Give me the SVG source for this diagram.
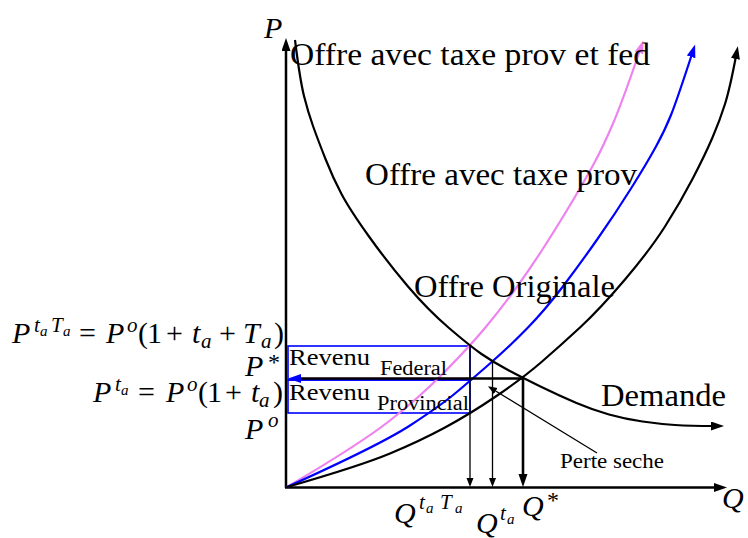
<svg xmlns="http://www.w3.org/2000/svg" width="748" height="538" viewBox="0 0 748 538">
<style>
text{font-family:"Liberation Serif","Times New Roman",serif;fill:#000}
.t30{font-size:31px}
.m{font-size:30px}
.i{font-style:italic}
.s2{font-size:21px}
.s3{font-size:15px}
.rev{font-size:24px}
.sub{font-size:20px}
.ps{font-size:21px}
.ax{stroke:#000;stroke-width:2.5;fill:none}
.cv{fill:none;stroke-width:2.2;stroke-linejoin:round}
.box{fill:none;stroke:#0000ff;stroke-width:1.6}
.thin{stroke:#000;stroke-width:1.3;fill:none}
.thick{stroke:#000;stroke-width:2.6;fill:none}
</style>
<defs>
<marker id="ak" markerUnits="userSpaceOnUse" markerWidth="14" markerHeight="10" refX="3" refY="4.5" orient="auto"><path d="M0,0 L13,4.5 L0,9 Z" fill="#000"/></marker>
<marker id="ab" markerUnits="userSpaceOnUse" markerWidth="14" markerHeight="10" refX="3" refY="4.5" orient="auto"><path d="M0,0 L13,4.5 L0,9 Z" fill="#0000ff"/></marker>
<marker id="ap" markerUnits="userSpaceOnUse" markerWidth="14" markerHeight="10" refX="3" refY="4.5" orient="auto"><path d="M0,0 L13,4.5 L0,9 Z" fill="#ee82ee"/></marker>
<marker id="as" markerUnits="userSpaceOnUse" markerWidth="10" markerHeight="8" refX="2" refY="3.5" orient="auto"><path d="M0,0 L9,3.5 L0,7 Z" fill="#000"/></marker>
</defs>
<rect width="748" height="538" fill="#fff"/>

<g id="axes">
<line class="ax" x1="286" y1="488" x2="286" y2="48" marker-end="url(#ak)"/>
<line class="ax" x1="285" y1="487.5" x2="717" y2="487.5" marker-end="url(#ak)"/>
</g>

<g id="boxes">
<rect id="box-federal" class="box" x="288" y="346" width="182" height="34"/>
<rect id="box-provincial" class="box" x="288" y="380" width="182" height="33"/>
</g>

<g id="curves">
<path id="supply-tax-prov-fed" class="cv" stroke="#ee82ee" marker-end="url(#ap)" d="M287,487 Q360,444 390,420.5 Q420,397 445,371.5 Q470,346 485,328 Q500,310 515,289.5 Q530,269 545,245.5 Q560,222 572.5,201 Q585,180 594,163.5 Q603,147 613,123.5 Q623,100 640,50"/>
<path id="supply-tax-prov" class="cv" stroke="#0000ff" marker-end="url(#ab)" d="M287,487 Q380,445 410,425.5 Q440,406 455,393.5 Q470,381 490,363.5 Q510,346 527.5,328 Q545,310 562.5,287 Q580,264 597.5,239 Q615,214 631,188.5 Q647,163 656,146.5 Q665,130 671,115 Q677,100 692,54"/>
<path id="supply-original" class="cv" stroke="#000" marker-end="url(#ak)" d="M287,487 Q360,466 390,453.5 Q420,441 445,427.5 Q470,414 496.5,396 Q523,378 541.5,362 Q560,346 580,327.5 Q600,309 625,279.5 Q650,250 665,226.5 Q680,203 692.5,179 Q705,155 712.5,137.5 Q720,120 725,104 Q730,88 736,56"/>
<path id="demand" class="cv" stroke="#000" stroke-width="2.5" marker-end="url(#ak)" d="M295,40 Q300,80 304,96 Q308,112 313,126 Q318,140 325.5,159 Q333,178 341.5,194 Q350,210 369,236.5 Q388,263 408,286.5 Q428,310 449,328 Q470,346 481.5,354 Q493,362 508,370 Q523,378 541.5,387 Q560,396 576.5,403 Q593,410 609,414.5 Q625,419 642.5,421.5 Q660,424 675,425 Q690,426 714,426"/>
</g>

<g id="connectors">
<line class="thin" x1="470" y1="346" x2="470" y2="480" marker-end="url(#as)"/>
<line class="thin" x1="492.5" y1="362" x2="492.5" y2="480" marker-end="url(#as)"/>
<line class="thick" x1="523" y1="378" x2="523" y2="477" marker-end="url(#ak)"/>
<line class="thick" x1="523" y1="378.5" x2="298" y2="378.5" marker-end="url(#ab)"/>
<line class="thin" x1="597" y1="453" x2="494" y2="390" stroke-width="1" marker-end="url(#as)"/>
</g>

<g id="label-P"><text class="m i" x="264" y="38">P</text></g>
<g id="label-Q"><text class="m i" x="722" y="508">Q</text></g>
<g id="label-offre-fed"><text class="t30" x="290" y="65" textLength="360" lengthAdjust="spacingAndGlyphs">Offre avec taxe prov et fed</text></g>
<g id="label-offre-prov"><text class="t30" x="365" y="185" textLength="272" lengthAdjust="spacingAndGlyphs">Offre avec taxe prov</text></g>
<g id="label-offre-orig"><text class="t30" x="414" y="297" textLength="201" lengthAdjust="spacingAndGlyphs">Offre Originale</text></g>
<g id="label-demande"><text class="t30" x="601" y="406" textLength="125" lengthAdjust="spacingAndGlyphs">Demande</text></g>
<g id="label-perte"><text class="ps" x="560" y="468" textLength="104" lengthAdjust="spacingAndGlyphs">Perte seche</text></g>
<g id="label-rev-fed">
<text class="rev" x="289" y="365" textLength="81" lengthAdjust="spacingAndGlyphs">Revenu</text>
<text class="sub" x="380" y="375" textLength="67" lengthAdjust="spacingAndGlyphs">Federal</text>
</g>
<g id="label-rev-prov">
<text class="rev" x="289" y="400" textLength="81" lengthAdjust="spacingAndGlyphs">Revenu</text>
<text class="sub" x="377" y="410" textLength="92" lengthAdjust="spacingAndGlyphs">Provincial</text>
</g>

<g id="label-PtaTa">
<text class="m"><tspan class="i" x="12" y="343">P</tspan><tspan class="i s2" x="34" y="332">t</tspan><tspan class="i s3" x="40" y="336">a</tspan><tspan class="i s2" x="51" y="332">T</tspan><tspan class="i s3" x="63" y="336">a</tspan><tspan x="79" y="343">=</tspan><tspan class="i" x="106" y="343">P</tspan><tspan class="i s2" x="127" y="332">o</tspan><tspan x="138" y="343">(</tspan><tspan x="147" y="343">1</tspan><tspan x="166" y="343">+</tspan><tspan class="i" x="192" y="343">t</tspan><tspan class="i s2" x="201" y="348">a</tspan><tspan x="219" y="343">+</tspan><tspan class="i" x="243" y="343">T</tspan><tspan class="i s2" x="261" y="348">a</tspan><tspan x="274" y="343">)</tspan></text>
</g>
<g id="label-Pstar">
<text class="m"><tspan class="i" x="245" y="376">P</tspan><tspan style="font-size:24px" x="268" y="370">*</tspan></text>
</g>
<g id="label-Pta">
<text class="m"><tspan class="i" x="93" y="402">P</tspan><tspan class="i s2" x="115" y="391">t</tspan><tspan class="i s3" x="121" y="395">a</tspan><tspan x="138" y="402">=</tspan><tspan class="i" x="166" y="402">P</tspan><tspan class="i s2" x="187" y="391">o</tspan><tspan x="198" y="402">(</tspan><tspan x="207" y="402">1</tspan><tspan x="225" y="402">+</tspan><tspan class="i" x="251" y="402">t</tspan><tspan class="i s2" x="259" y="407">a</tspan><tspan x="273" y="402">)</tspan></text>
</g>
<g id="label-Po">
<text class="m"><tspan class="i" x="245" y="439">P</tspan><tspan class="i s2" x="268" y="427">o</tspan></text>
</g>

<g id="label-QtaTa">
<text class="m"><tspan class="i" x="394" y="523">Q</tspan><tspan class="i s2" x="419" y="509">t</tspan><tspan class="i s3" x="426" y="513">a</tspan><tspan class="i s2" x="440" y="509">T</tspan><tspan class="i s3" x="455" y="513">a</tspan></text>
</g>
<g id="label-Qta">
<text class="m"><tspan class="i" x="476" y="533">Q</tspan><tspan class="i s2" x="500" y="520">t</tspan><tspan class="i s3" x="507" y="524">a</tspan></text>
</g>
<g id="label-Qstar">
<text class="m"><tspan class="i" x="522" y="516">Q</tspan><tspan style="font-size:24px" x="547" y="508">*</tspan></text>
</g>
</svg>
